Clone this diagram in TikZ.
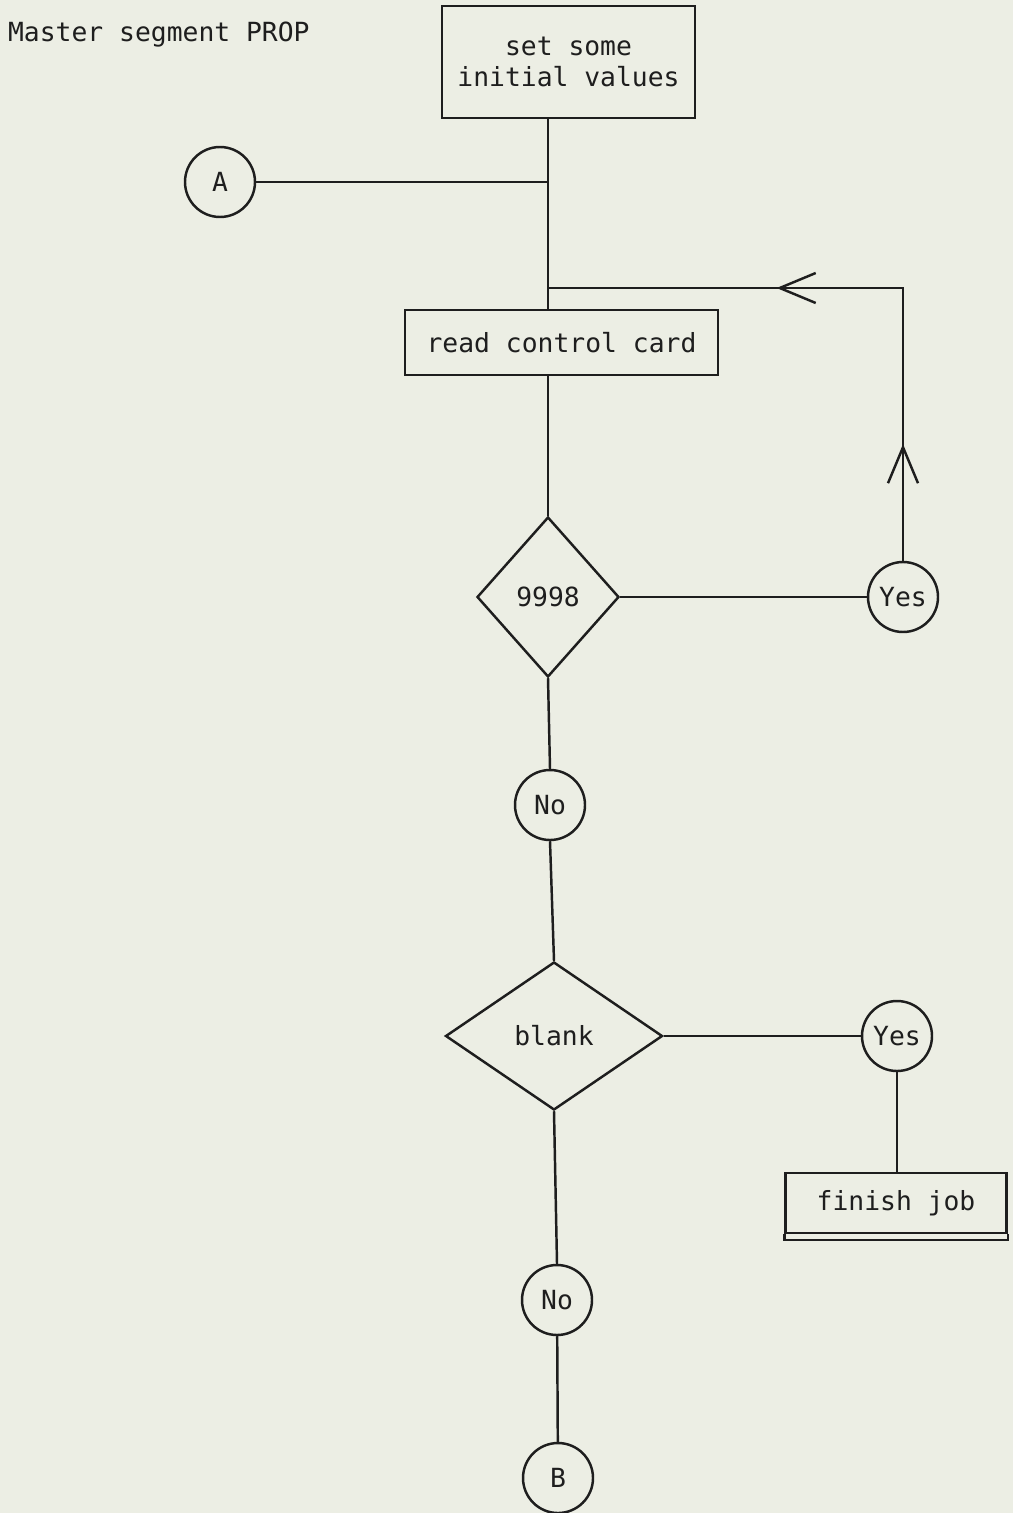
\documentclass[tikz,border=0pt]{standalone}
\usepackage{fontspec}
\setmonofont{DejaVu Sans Mono}
\usepackage{tikz}
\usetikzlibrary{shapes,positioning,arrows.meta,decorations.markings}
\definecolor{paper}{RGB}{236,238,228}
\definecolor{ink}{RGB}{30,30,30}

\begin{document}
\begin{tikzpicture}[line width=1.4pt,draw=ink,text=ink,font=\ttfamily\fontsize{15}{18}\selectfont]
\tikzstyle{block} = [draw, shape=rectangle, inner sep=0pt]
\tikzstyle{decision} = [draw, shape=diamond, inner sep=0pt]
\tikzstyle{conn} = [draw, shape=circle, minimum size=1.4cm, inner sep=0pt]
\tikzstyle{loopback} = [postaction={decorate}, decoration={markings,
  mark=at position 0.186 with {\arrow{Straight Barb[length=0.72cm,width=0.6cm]}},
  mark=at position 0.636 with {\arrow{Straight Barb[length=0.72cm,width=0.6cm]}}}]

% Page
\useasboundingbox (0,0) rectangle (20.26,-30.26);
\fill[paper] (0,0) rectangle (20.26,-30.26);

% Title and start
\node [anchor=west] at (0.02,-0.70) (title) {Master segment PROP};
\node [block, align=center, minimum width=5.06cm, minimum height=2.24cm] at (11.37,-1.24) (init) {set some\\initial values};
\node [conn, left of=init, node distance=6.97cm, yshift=-2.40cm] (A) {A};

% Read loop
\node [block, minimum width=6.26cm, minimum height=1.30cm, below of=init, node distance=5.61cm, xshift=-0.14cm] (read) {read control card};
\node [decision, minimum width=2.84cm, minimum height=3.20cm, below of=read, node distance=5.09cm, xshift=-0.27cm] (d9998) {9998};
\node [conn, right of=d9998, node distance=7.10cm] (yes1) {Yes};
\node [conn, below of=d9998, node distance=4.16cm, xshift=0.04cm] (no1) {No};
\coordinate [below of=init, node distance=4.52cm, xshift=-0.41cm] (loop);

% Blank card
\node [decision, minimum width=4.34cm, minimum height=2.96cm, below of=no1, node distance=4.62cm, xshift=0.08cm] (blank) {blank};
\node [conn, right of=blank, node distance=6.86cm] (yes2) {Yes};
\node [block, minimum width=4.42cm, minimum height=1.20cm, below of=yes2, node distance=3.34cm, xshift=-0.02cm] (finish) {finish job};
\node [conn, below of=blank, node distance=5.28cm, xshift=0.06cm] (no2) {No};
\node [conn, below of=no2, node distance=3.56cm, xshift=0.02cm] (B) {B};

% Connectors
\draw (init.south -| d9998) -- (read.north -| d9998);
\draw (A) -- (A -| d9998);
\draw (read.south -| d9998) -- (d9998.north);
\draw (d9998.east) -- (yes1.west);
\draw[loopback] (yes1.north) |- (loop);
\draw (d9998.south) -- (no1.north);
\draw (no1.south) -- (blank.north);
\draw (blank.east) -- (yes2.west);
\draw (yes2.south) -- (finish.north -| yes2);
\draw (finish.south west) -- ++(0,-0.12) -| (finish.south east);
\draw (blank.south) -- (no2.north);
\draw (no2) -- (B);

\end{tikzpicture}
\end{document}
